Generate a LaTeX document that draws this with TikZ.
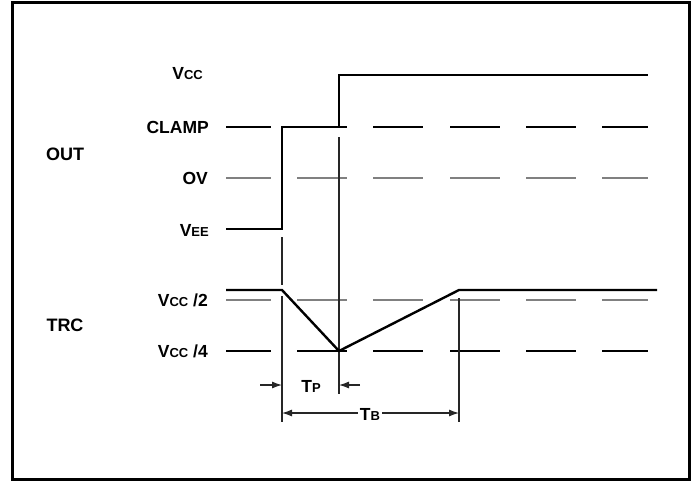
\documentclass[tikz,border=0pt]{standalone}
\usepackage{fontspec}
\setmainfont{Liberation Sans}
\usetikzlibrary{arrows.meta}

\newcommand{\smc}[1]{{\fontsize{13}{13}\selectfont #1}}

\begin{document}
\begin{tikzpicture}[x=1pt,y=-1pt,
        grp/.style={font=\bfseries\fontsize{18}{18}\selectfont},
        lvl/.style={font=\bfseries\fontsize{17.5}{17.5}\selectfont, anchor=east, inner sep=0pt},
        sig/.style={line width=2.4pt, line join=miter},
        guide/.style={line width=1.1pt, black!85},
        blkdash/.style={line width=1.1pt, black},
        grydash/.style={line width=2pt, gray},
        dim/.style={line width=1.1pt, black!85, -{Latex[length=10pt,width=7pt]}}]
        \useasboundingbox (0,0) rectangle (696,482);

        % Frame
        \draw[line width=3pt] (12.5,2.5) rectangle (689.5,479.5);

        % Signal names
        \node[grp] (out) at (65,154) {OUT};
        \node[grp] (trc) at (65,325) {TRC};

        % Level labels
        \node[lvl] (vcc) at (203,74) {V\smc{CC}};
        \node[lvl] (clamp) at (209,127) {CLAMP};
        \node[lvl] (ov) at (208,178) {OV};
        \node[lvl] (vee) at (209,230) {V\smc{EE}};
        \node[lvl] (half) at (208,300) {V\smc{CC} /2};
        \node[lvl] (quarter) at (208,351) {V\smc{CC} /4};

        % Dashed level lines
        \foreach \y/\s in {127/blkdash,178/grydash,300/grydash,351/blkdash} {
            \foreach \a/\b in {226/271,297/347,373/423,450/500,526/576,602/648} {
                \draw[\s] (\a,\y) -- (\b,\y);
            }
        }

        % Key points
        \coordinate (ee0) at (226,229);
        \coordinate (ee1) at (282,229);
        \coordinate (cl1) at (282,127);
        \coordinate (cl2) at (339,127);
        \coordinate (cc1) at (339,75);
        \coordinate (cc2) at (648,75);
        \coordinate (tr0) at (226,290);
        \coordinate (tr1) at (282,290);
        \coordinate (low) at (339,351);
        \coordinate (tr2) at (459,290);
        \coordinate (tr3) at (657,290);

        % Extension lines
        \draw[guide] (282,237) -- (282,285);
        \draw[guide] (282,296) -- (282,422);
        \draw[guide] (339,137) -- (339,394);
        \draw[guide] (459,298) -- (459,422);

        % OUT waveform
        \draw[sig] (ee0) -- (ee1) -- (cl1) -- (cl2) -- (cc1) -- (cc2);

        % TRC waveform
        \draw[sig] (tr0) -- (tr1) -- (low) -- (tr2) -- (tr3);

        % TP
        \coordinate (tpa) at (260,385);
        \coordinate (tpb) at (282,385);
        \coordinate (tpc) at (360,385);
        \coordinate (tpd) at (339,385);
        \draw[dim] (tpa) -- (tpb);
        \draw[dim] (tpc) -- (tpd);
        \node[lvl, anchor=center] (tp) at (311,386) {T\smc{P}};

        % TB
        \coordinate (tba) at (282,413);
        \coordinate (tbb) at (459,413);
        \draw[dim, {Latex[length=10pt,width=7pt]}-{Latex[length=10pt,width=7pt]}] (tba) -- (tbb);
        \node[lvl, anchor=center, fill=white, inner sep=2pt] (tb) at (370,414) {T\smc{B}};
    \end{tikzpicture}
\end{document}
